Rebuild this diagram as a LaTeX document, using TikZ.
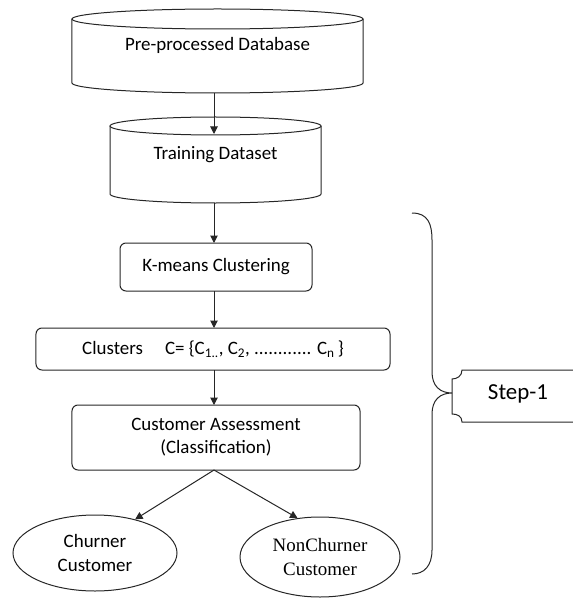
\documentclass[tikz,border=0pt]{standalone}
\usepackage{fontspec}
\setmainfont{Carlito}
\newfontfamily\timesf{Liberation Serif}
\usetikzlibrary{arrows.meta,calc,shapes.geometric}
\begin{document}
\begin{tikzpicture}[x=1bp,y=-1bp,
  line/.style={draw=black!85, line width=1bp},
  arr/.style={line, -{Triangle[length=7.5bp,width=7.5bp]}},
  box/.style={line, rounded corners=6bp, inner sep=0pt, align=center, font=\lbl},
  ghost/.style={inner sep=0pt, outer sep=0pt},
  oval/.style={line, ellipse, inner sep=0pt, align=center},
]
\newcommand\lbl{\fontsize{19}{23}\selectfont}
\useasboundingbox (0,0) rectangle (573,601);

% Pre-processed Database cylinder
\node[ghost, minimum width=291bp, minimum height=84bp] (db) at (217.5,51) {};
\draw[line] ($(db.north)+(0,10)$) ellipse [x radius=145.5bp, y radius=10bp];
\draw[line] ($(db.north west)+(0,10)$) -- ($(db.south west)+(0,-10)$)
  arc[start angle=180, end angle=360, x radius=145.5bp, y radius=10bp]
  -- ($(db.north east)+(0,10)$);
\node[font=\lbl] (dbt) at (217.5,45) {Pre-processed Database};

% Training Dataset cylinder
\node[ghost, minimum width=211bp, minimum height=86bp] (td) at (215.5,160) {};
\draw[line] ($(td.north)+(0,9)$) ellipse [x radius=105.5bp, y radius=9bp];
\draw[line] ($(td.north west)+(0,9)$) -- ($(td.south west)+(0,-9)$)
  arc[start angle=180, end angle=360, x radius=105.5bp, y radius=9bp]
  -- ($(td.north east)+(0,9)$);
\node[font=\lbl] (tdt) at (215.5,155) {Training Dataset};
\coordinate (tdin) at (214,134);

% Boxes
\node[box, minimum width=192bp, minimum height=48bp] (km) at (216,267) {K-means Clustering};
\node[box, minimum width=354bp, minimum height=42bp] (cl) at (213,349)
  {Clusters\hspace{22bp}C= \{C\textsubscript{1..}, C\textsubscript{2}, ............ C\textsubscript{n}\,\}};
\node[box, minimum width=288bp, minimum height=65bp] (as) at (216,437.5)
  {Customer Assessment\\(Classification)};

% Ellipses
\node[oval, minimum width=164bp, minimum height=76bp, font=\lbl] (ch) at (95,553)
  {Churner\\[1bp]Customer};
\node[oval, minimum width=160bp, minimum height=80bp, font=\timesf\fontsize{19}{24}\selectfont] (nc) at (320,557)
  {NonChurner\\Customer};

% Arrows
\draw[arr] (214,93) -- (tdin);
\draw[arr] (214,203) -- (214,243);
\draw[arr] (214,291) -- (214,328);
\draw[arr] (214,370) -- (214,405);
\coordinate (split) at (214,470);
\draw[arr] (split) -- (ch.40);
\draw[arr] (split) -- (nc.120);

% Step-1 callout
\node[font=\fontsize{23}{27}\selectfont] (st) at (518,394) {Step-1};
\draw[line] (580,370) -- (462,370)
  .. controls (462,376) and (457,379) .. (452,379)
  -- (452,414)
  .. controls (457,414) and (462,416) .. (462,422)
  -- (580,422);
% Brace
\coordinate (btop) at (412,213);
\coordinate (btip) at (452,393);
\coordinate (bbot) at (412,574);
\draw[line] (btop) .. controls (428,213) and (432,224) .. (432,240)
  -- (432,372) .. controls (432,386) and (440,393) .. (btip)
  .. controls (440,393) and (432,400) .. (432,414)
  -- (432,550) .. controls (432,566) and (424,574) .. (bbot);
\end{tikzpicture}
\end{document}
